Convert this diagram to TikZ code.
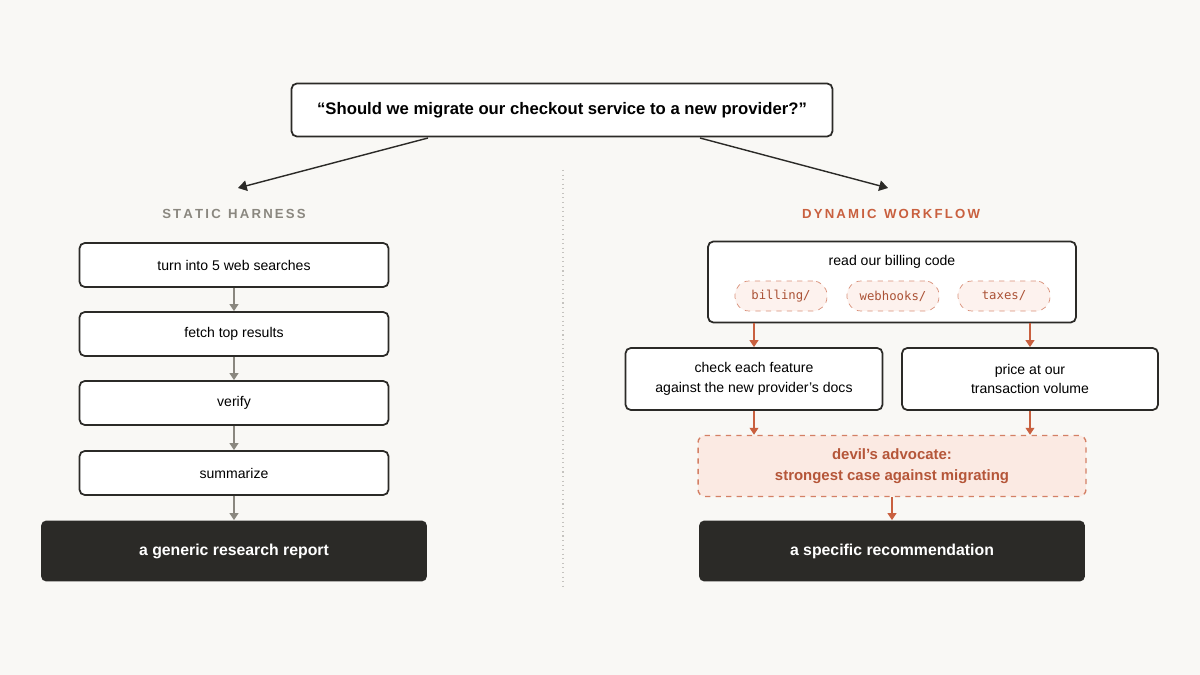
\documentclass[tikz,border=0pt]{standalone}
\usepackage{fontspec}
\setmainfont{Liberation Sans}
\setmonofont{DejaVu Sans Mono}
\usetikzlibrary{arrows.meta}
\definecolor{bg}{HTML}{F9F8F5}
\definecolor{org}{HTML}{C9603F}
\definecolor{dark}{HTML}{2B2A27}
\definecolor{pinkf}{HTML}{FBEAE3}
\definecolor{grayt}{HTML}{8A877F}
\begin{document}
\begin{tikzpicture}[x=0.02cm,y=-0.02cm,
 box/.style={draw=dark,line width=1pt,rounded corners=3pt,fill=white,align=center,font=\fontsize{8}{11}\selectfont,inner sep=0pt},
 dbox/.style={fill=dark,rounded corners=3pt,text=white,font=\fontsize{9}{11}\selectfont\bfseries,inner sep=0pt},
 pill/.style={draw=org!70,dashed,rounded corners=8pt,fill=pinkf!60,text=org!85!black,font=\fontsize{7}{8}\ttfamily,minimum width=1.84cm,minimum height=0.6cm,inner sep=0pt},
 garr/.style={-{Triangle[length=4pt,width=5pt]},draw=grayt,line width=0.9pt},
 oarr/.style={-{Triangle[length=4pt,width=5pt]},draw=org,line width=0.9pt},
 karr/.style={-{Triangle[length=5pt,width=6pt]},draw=dark,line width=0.8pt},
 hdr/.style={font=\fontsize{7.5}{9}\selectfont\bfseries}]
\fill[bg] (0,0) rectangle (1200,675);
\useasboundingbox (0,0) rectangle (1200,675);
\node[box,minimum width=10.82cm,minimum height=1.06cm,font=\fontsize{9.5}{11}\selectfont\bfseries] (q) at (562,110) {“Should we migrate our checkout service to a new provider?”};
\coordinate (ql) at (428,138); \coordinate (qr) at (700,138);
\coordinate (tl) at (238,188); \coordinate (tr) at (888,188);
\draw[karr] (ql) -- (tl);
\draw[karr] (qr) -- (tr);
\draw[dotted,draw=grayt!50,line width=0.6pt] (563,170) -- (563,590);
\node[hdr,text=grayt] (sh) at (234,214) {S\,T\,A\,T\,I\,C\ \ H\,A\,R\,N\,E\,S\,S};
\node[hdr,text=org] (dw) at (891,214) {D\,Y\,N\,A\,M\,I\,C\ \ W\,O\,R\,K\,F\,L\,O\,W};
\foreach \n/\y/\t in {a/265/turn into 5 web searches,b/334/fetch top results,c/403/verify,d/473/summarize}
  \node[box,minimum width=6.18cm,minimum height=0.88cm] (\n) at (234,\y) {\t};
\node[dbox,minimum width=7.72cm,minimum height=1.22cm] (rep) at (234,551) {a generic research report};
\draw[garr] (a) -- (b); \draw[garr] (b) -- (c); \draw[garr] (c) -- (d); \draw[garr] (d) -- (rep);
\node[box,minimum width=7.36cm,minimum height=1.62cm] (bill) at (892,282) {};
\node[font=\fontsize{8}{10}\selectfont] (billt) at (892,262) {read our billing code};
\node[pill] (p1) at (781,296) {billing/};
\node[pill] (p2) at (893,296) {webhooks/};
\node[pill] (p3) at (1004,296) {taxes/};
\node[box,minimum width=5.14cm,minimum height=1.24cm] (chk) at (754,379) {check each feature\\against the new provider’s docs};
\node[box,minimum width=5.12cm,minimum height=1.24cm] (pr) at (1030,379) {price at our\\transaction volume};
\node[draw=org!80,dashed,line width=0.8pt,fill=pinkf,rounded corners=4pt,minimum width=7.76cm,minimum height=1.22cm,align=center,text=org!90!black,font=\fontsize{8.5}{12}\selectfont\bfseries] (dev) at (892,466) {devil’s advocate:\\strongest case against migrating};
\node[dbox,minimum width=7.72cm,minimum height=1.22cm] (rec) at (892,551) {a specific recommendation};
\draw[oarr] (bill.south -| chk.north) -- (chk.north);
\draw[oarr] (bill.south -| pr.north) -- (pr.north);
\draw[oarr] (chk.south) -- (chk.south |- dev.north);
\draw[oarr] (pr.south) -- (pr.south |- dev.north);
\draw[oarr] (dev) -- (rec);
\end{tikzpicture}
\end{document}
